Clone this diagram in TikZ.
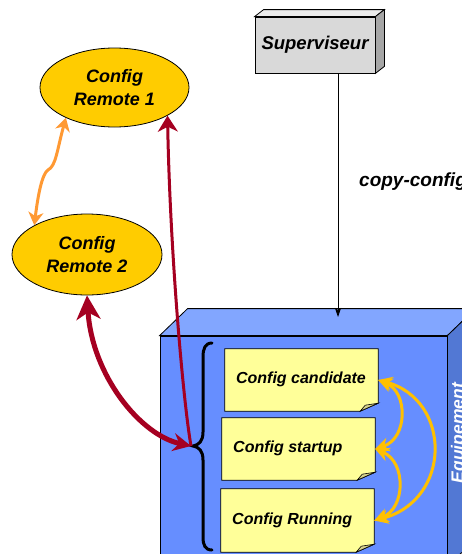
\documentclass[tikz,border=0pt]{standalone}
\usepackage{fontspec}
\setmainfont{Liberation Sans}
\usetikzlibrary{arrows.meta,shapes.geometric,calc}
\definecolor{eqfront}{RGB}{102,142,255}
\definecolor{eqtopc}{RGB}{130,166,255}
\definecolor{eqside}{RGB}{82,120,212}
\definecolor{supfront}{RGB}{217,217,217}
\definecolor{suptop}{RGB}{235,235,235}
\definecolor{supside}{RGB}{166,166,166}
\definecolor{remfill}{RGB}{255,204,0}
\definecolor{orangec}{RGB}{255,153,51}
\definecolor{redc}{RGB}{165,0,33}
\definecolor{goldc}{RGB}{255,192,0}
\definecolor{notefill}{RGB}{255,255,153}
\definecolor{foldfill}{RGB}{214,210,140}
\tikzset{
  orangetip/.tip={Stealth[length=13pt,width=15pt,inset=4pt]},
  goldtip/.tip={Stealth[length=14pt,width=14pt,inset=4.5pt]},
  redbig/.tip={Stealth[length=24pt,width=24pt,inset=7pt]},
  redmid/.tip={Stealth[length=18pt,width=18pt,inset=6pt]},
  redthin/.tip={Stealth[length=16pt,width=20pt,inset=5pt]},
  blacktip/.tip={Stealth[length=9pt,width=6pt,inset=2pt]}}
\newcommand\drawnote[1]{%
  \filldraw[fill=notefill,draw=black,line width=0.8pt] (#1.north west) -- (#1.north east) -- ($(#1.south east)+(0,-8)$) -- ($(#1.south east)+(-18,0)$) -- (#1.south west) -- cycle;
  \filldraw[fill=foldfill,draw=black,line width=0.6pt] ($(#1.south east)+(-18,0)$) -- ($(#1.south east)+(-13,-6)$) -- ($(#1.south east)+(0,-8)$) -- cycle;}
\begin{document}
\begin{tikzpicture}[x=1pt,y=-1pt,
  face/.style={draw=black,line width=0.8pt},
  ell/.style={ellipse,draw=black,line width=0.8pt,fill=remfill,inner sep=0pt,align=center,font=\bfseries\itshape\fontsize{18}{23}\selectfont},
  notebox/.style={inner sep=0pt,minimum width=153pt},
  notetext/.style={inner sep=0pt,font=\bfseries\itshape\fontsize{16}{19}\selectfont}]
\useasboundingbox[fill=white] (0,0) rectangle (462,554);

% Equipement
\node[face,fill=eqfront,minimum width=287pt,minimum height=230pt,inner sep=0pt] (eq) at (303.5,451) {};
\filldraw[face,fill=eqtopc] (eq.north west) -- ++(28,-27) -- ($(eq.north east)+(28,-27)$) -- (eq.north east) -- cycle;
\filldraw[face,fill=eqside] (eq.north east) -- ++(28,-27) -- ($(eq.south east)+(28,-27)$) -- (eq.south east) -- cycle;
\node[rotate=90,anchor=base,text=white,inner sep=0pt,font=\bfseries\itshape\fontsize{17.5}{20}\selectfont] (eqlabel) at (463.5,433) {Equipement};
\coordinate (eqhit) at (338,317);

% Superviseur
\node[face,fill=supfront,minimum width=120pt,minimum height=56pt,inner sep=0pt,font=\bfseries\itshape\fontsize{18.5}{22}\selectfont] (sup) at (315,45) {Superviseur};
\filldraw[face,fill=suptop] (sup.north west) -- ++(9,-7) -- ($(sup.north east)+(9,-7)$) -- (sup.north east) -- cycle;
\filldraw[face,fill=supside] (sup.north east) -- ++(9,-7) -- ($(sup.south east)+(9,-7)$) -- (sup.south east) -- cycle;
\draw[line width=0.8pt,-blacktip] (sup.south -| eqhit) -- (eqhit);
\node[anchor=base west,inner sep=0pt,font=\bfseries\itshape\fontsize{19}{22}\selectfont] (cc) at (359,186) {copy-config};

% Brace
\draw[line width=3pt,line cap=round] (212,343) .. controls (205,343) and (203,349) .. (203,357) -- (203,432) .. controls (203,441) and (199,445) .. (193,446) .. controls (199,447) and (203,451) .. (203,460) -- (203,537) .. controls (203,545) and (205,550) .. (212,550);
\coordinate (tip) at (191,446);

% Notes
\node[notebox,minimum height=62pt] (nc) at (301.5,380) {};
\node[notebox,minimum height=62pt] (ns) at (298.5,449) {};
\node[notebox,minimum height=63pt] (nr) at (297.5,520.5) {};
\drawnote{nc}
\drawnote{ns}
\drawnote{nr}
\node[notetext] (nct) at (301,379) {Config candidate};
\node[notetext,anchor=west] (nst) at (233,448) {Config startup};
\node[notetext,anchor=west] (nrt) at (232,520) {Config Running};

% Remotes
\node[ell,minimum width=149pt,minimum height=79pt] (r1) at (114.5,87.5) {Config\\Remote 1};
\node[ell,minimum width=150pt,minimum height=81pt] (r2) at (87,254.5) {Config\\Remote 2};

% Arrows
\draw[orangec,line width=3pt,orangetip-orangetip] (r1.212) .. controls (57,150) and (56,166) .. (48,170) .. controls (42,174) and (38,195) .. (r2.151);
\draw[redc,line width=3pt,-redthin] (tip) .. controls (183,400) and (170,250) .. (r1.332);
\draw[redc,line width=5pt,redbig-redmid] (r2.south) .. controls (92,375) and (140,435) .. (tip);
\draw[goldc,line width=3pt,goldtip-goldtip] (nc.east) .. controls (408,392) and (408,438) .. (ns.east);
\draw[goldc,line width=3pt,goldtip-goldtip] (ns.east) .. controls (406,462) and (406,508) .. (nr.east);
\draw[goldc,line width=3pt,goldtip-goldtip] (nc.east) .. controls (452,400) and (452,500) .. (nr.east);
\end{tikzpicture}
\end{document}
